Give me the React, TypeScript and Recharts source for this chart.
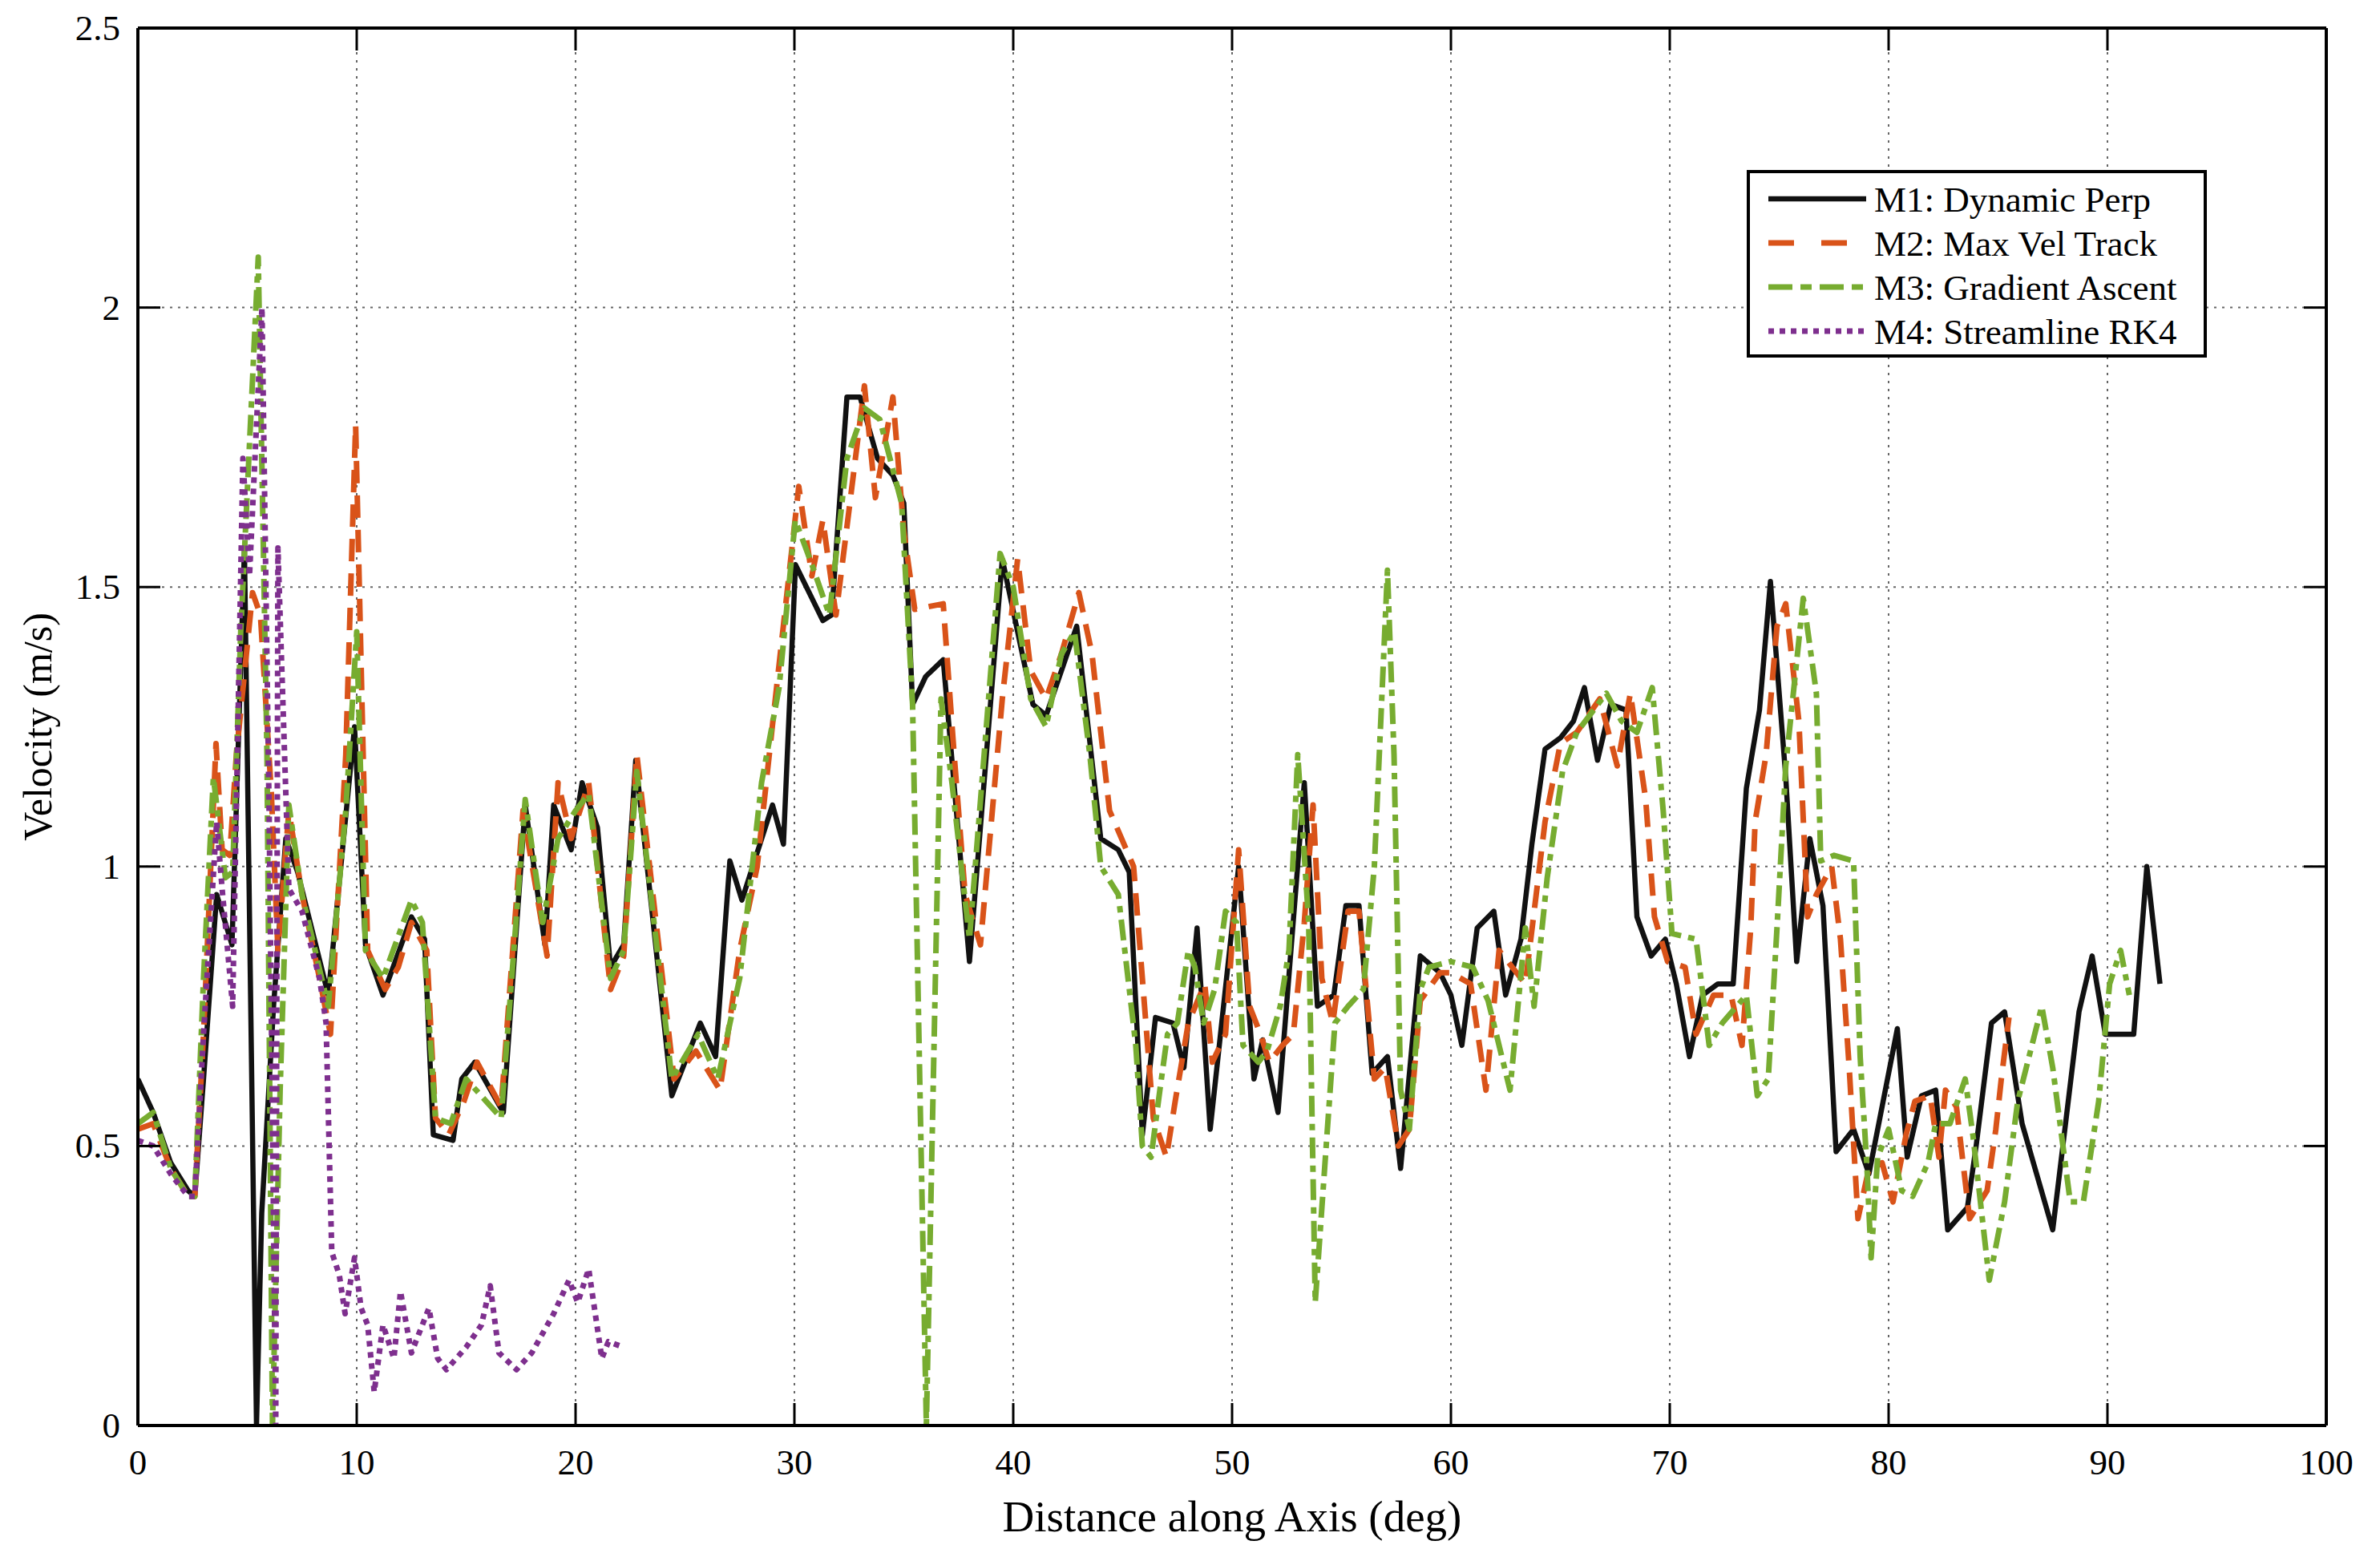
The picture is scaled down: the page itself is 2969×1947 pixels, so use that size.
import React from 'react';
import { LineChart, Line, XAxis, YAxis, CartesianGrid } from 'recharts';

// ---------- data ----------
const m1X = [0, 0.7, 1.5, 2.3, 2.6, 3.0, 3.6, 4.3, 4.87, 5.42, 5.66, 6.2, 6.76, 7.3, 8.7, 9.9, 10.4, 11.2, 12.5, 13.1, 13.5, 14.4, 14.8, 15.4, 16.7, 17.7, 18.6, 19.0, 19.8, 20.3, 21.0, 21.6, 22.2, 22.75, 24.4, 25.7, 26.4, 27.05, 27.6, 29.0, 29.5, 30.05, 31.3, 31.7, 32.4, 33.0, 33.8, 34.5, 35.0, 35.4, 36.0, 36.8, 38.0, 39.5, 40.9, 41.5, 42.9, 44.0, 44.8, 45.3, 45.9, 46.5, 47.3, 47.8, 48.4, 49.0, 50.3, 51.0, 51.4, 52.1, 53.3, 53.9, 54.65, 55.2, 55.8, 56.4, 57.1, 57.7, 58.6, 59.5, 60.0, 60.5, 61.2, 61.96, 62.5, 63.2, 63.7, 64.3, 65.0, 65.6, 66.1, 66.7, 67.3, 68.0, 68.5, 69.15, 69.8, 70.3, 70.9, 71.5, 72.2, 72.9, 73.5, 74.1, 74.6, 75.3, 75.8, 76.4, 77.0, 77.6, 78.4, 79.1, 80.4, 80.85, 81.5, 82.15, 82.7, 83.6, 84.0, 84.7, 85.3, 86.1, 87.5, 88.7, 89.3, 89.9, 91.2, 91.8, 92.4];
const m1Y = [0.62, 0.56, 0.47, 0.42, 0.41, 0.62, 0.95, 0.86, 1.57, 0.0, 0.38, 0.75, 1.05, 0.99, 0.77, 1.25, 0.86, 0.77, 0.91, 0.87, 0.52, 0.51, 0.62, 0.65, 0.56, 1.11, 0.86, 1.11, 1.03, 1.15, 1.07, 0.82, 0.86, 1.19, 0.59, 0.72, 0.66, 1.01, 0.94, 1.11, 1.04, 1.54, 1.44, 1.45, 1.84, 1.84, 1.73, 1.70, 1.65, 1.29, 1.34, 1.37, 0.83, 1.55, 1.29, 1.27, 1.43, 1.05, 1.03, 0.99, 0.52, 0.73, 0.72, 0.64, 0.89, 0.53, 1.0, 0.62, 0.69, 0.56, 1.15, 0.75, 0.77, 0.93, 0.93, 0.63, 0.66, 0.46, 0.84, 0.81, 0.77, 0.68, 0.89, 0.92, 0.77, 0.87, 1.04, 1.21, 1.23, 1.26, 1.32, 1.19, 1.29, 1.28, 0.91, 0.84, 0.87, 0.79, 0.66, 0.77, 0.79, 0.79, 1.14, 1.28, 1.51, 1.16, 0.83, 1.05, 0.93, 0.49, 0.53, 0.45, 0.71, 0.48, 0.59, 0.60, 0.35, 0.39, 0.50, 0.72, 0.74, 0.54, 0.35, 0.74, 0.84, 0.70, 0.70, 1.0, 0.79];

const m2X = [0, 0.7, 1.5, 2.3, 2.6, 3.0, 3.57, 3.85, 4.2, 4.5, 5.24, 5.6, 6.1, 6.4, 6.9, 7.5, 8.3, 8.8, 9.5, 9.95, 10.5, 11.3, 11.9, 12.5, 13.2, 13.6, 14.2, 14.9, 15.5, 16.6, 17.6, 18.7, 19.2, 19.8, 20.6, 21.6, 22.2, 22.8, 24.5, 25.5, 26.6, 27.5, 28.3, 29.1, 30.2, 30.8, 31.3, 31.9, 33.2, 33.7, 34.5, 35.0, 35.5, 36.8, 37.3, 37.8, 38.5, 39.5, 40.2, 40.8, 41.5, 42.2, 43.0, 43.6, 44.4, 45.5, 46.0, 46.4, 47.0, 47.4, 48.0, 48.75, 49.1, 49.7, 50.3, 50.8, 51.3, 51.7, 52.3, 52.8, 53.3, 53.7, 54.1, 54.6, 55.3, 55.8, 56.5, 57.0, 57.6, 58.1, 58.6, 59.5, 60.0, 60.9, 61.6, 62.2, 63.4, 64.3, 65.0, 65.75, 66.8, 67.6, 68.2, 68.9, 69.3, 69.9, 70.7, 71.2, 72.0, 72.8, 73.3, 73.7, 73.9, 74.4, 74.9, 75.3, 75.9, 76.3, 76.7, 77.4, 77.8, 78.2, 78.6, 79.1, 79.7, 80.2, 80.8, 81.2, 81.9, 82.3, 82.6, 83.1, 83.7, 84.5, 84.9, 85.15, 85.5];
const m2Y = [0.53, 0.54, 0.46, 0.41, 0.41, 0.70, 1.22, 1.03, 1.02, 1.20, 1.49, 1.45, 1.13, 0.85, 1.10, 0.95, 0.80, 0.70, 1.20, 1.79, 0.85, 0.78, 0.82, 0.90, 0.85, 0.55, 0.52, 0.58, 0.65, 0.57, 1.10, 0.84, 1.15, 1.05, 1.15, 0.78, 0.84, 1.20, 0.62, 0.67, 0.60, 0.85, 1.00, 1.29, 1.68, 1.52, 1.62, 1.45, 1.86, 1.66, 1.84, 1.60, 1.46, 1.47, 1.20, 0.95, 0.86, 1.30, 1.55, 1.35, 1.30, 1.38, 1.49, 1.38, 1.10, 1.00, 0.75, 0.55, 0.48, 0.58, 0.72, 0.79, 0.65, 0.70, 1.03, 0.75, 0.70, 0.65, 0.68, 0.70, 0.90, 1.11, 0.80, 0.72, 0.92, 0.92, 0.62, 0.64, 0.50, 0.53, 0.76, 0.81, 0.81, 0.79, 0.60, 0.85, 0.79, 1.08, 1.22, 1.24, 1.30, 1.18, 1.31, 1.12, 0.91, 0.83, 0.82, 0.70, 0.77, 0.77, 0.68, 0.89, 1.08, 1.20, 1.43, 1.47, 1.26, 0.91, 0.95, 1.00, 0.87, 0.64, 0.37, 0.46, 0.47, 0.40, 0.52, 0.58, 0.59, 0.48, 0.60, 0.57, 0.37, 0.42, 0.53, 0.62, 0.73];

const m3X = [0, 0.7, 1.5, 2.3, 2.6, 3.0, 3.45, 4.0, 4.33, 4.7, 5.5, 5.9, 6.15, 6.5, 6.9, 7.5, 8.7, 9.5, 10.0, 10.4, 11.2, 12.5, 13.0, 13.6, 14.3, 15.0, 16.6, 17.7, 18.5, 19.2, 20.0, 20.6, 21.6, 22.2, 22.8, 24.4, 25.6, 26.5, 27.5, 28.5, 29.3, 30.04, 30.8, 31.6, 32.4, 33.2, 33.9, 34.9, 35.4, 36.03, 36.7, 37.2, 38.0, 39.4, 40.0, 40.8, 41.5, 42.2, 42.8, 43.5, 44.0, 44.8, 45.6, 45.9, 46.3, 46.7, 47.05, 47.5, 48.0, 48.3, 48.7, 49.2, 49.7, 50.2, 50.5, 51.2, 51.6, 52.2, 52.6, 53.0, 53.5, 53.8, 54.3, 54.7, 55.3, 56.0, 56.5, 57.1, 57.4, 57.7, 58.1, 58.6, 59.0, 60.0, 61.0, 61.7, 62.7, 63.4, 63.8, 64.4, 65.1, 65.75, 67.1, 67.8, 68.5, 69.2, 69.7, 70.1, 71.2, 71.8, 72.4, 73.5, 74.0, 74.5, 74.9, 75.3, 76.1, 76.7, 76.9, 77.5, 78.4, 78.7, 79.0, 79.2, 79.5, 80.0, 80.6, 81.1, 81.8, 82.15, 82.8, 83.5, 83.85, 84.6, 85.3, 85.9, 87.0, 87.5, 88.3, 88.9, 89.6, 90.1, 90.6, 91.0];
const m3Y = [0.54, 0.56, 0.46, 0.41, 0.41, 0.80, 1.16, 0.98, 0.99, 1.42, 2.09, 1.20, 0.0, 0.60, 1.11, 0.95, 0.75, 1.10, 1.42, 0.85, 0.80, 0.94, 0.90, 0.55, 0.54, 0.62, 0.55, 1.12, 0.90, 1.05, 1.10, 1.13, 0.80, 0.85, 1.17, 0.62, 0.70, 0.62, 0.80, 1.15, 1.32, 1.62, 1.54, 1.45, 1.73, 1.82, 1.80, 1.65, 1.29, 0.0, 1.30, 1.15, 0.87, 1.56, 1.50, 1.30, 1.25, 1.38, 1.42, 1.20, 1.00, 0.95, 0.68, 0.50, 0.48, 0.60, 0.70, 0.72, 0.85, 0.82, 0.72, 0.78, 0.92, 0.90, 0.68, 0.65, 0.67, 0.75, 0.85, 1.20, 0.90, 0.22, 0.50, 0.72, 0.75, 0.78, 1.00, 1.53, 1.20, 0.60, 0.53, 0.78, 0.82, 0.83, 0.82, 0.76, 0.60, 0.89, 0.75, 0.98, 1.17, 1.24, 1.31, 1.26, 1.24, 1.32, 1.10, 0.88, 0.87, 0.68, 0.72, 0.77, 0.59, 0.62, 0.89, 1.18, 1.48, 1.31, 1.01, 1.02, 1.01, 0.66, 0.47, 0.30, 0.48, 0.53, 0.42, 0.41, 0.47, 0.54, 0.54, 0.62, 0.52, 0.26, 0.40, 0.58, 0.75, 0.64, 0.40, 0.40, 0.58, 0.79, 0.85, 0.77];

const m4X = [0, 0.7, 1.5, 2.3, 2.6, 3.0, 3.6, 3.85, 4.33, 4.8, 5.1, 5.67, 6.0, 6.3, 6.4, 6.9, 7.5, 8.3, 8.6, 8.86, 9.2, 9.47, 9.9, 10.2, 10.5, 10.8, 11.2, 11.7, 12.0, 12.5, 13.3, 13.7, 14.1, 15.0, 15.7, 16.1, 16.5, 17.3, 18.0, 19.0, 19.7, 20.1, 20.6, 21.2, 21.5, 22.2];
const m4Y = [0.51, 0.50, 0.45, 0.41, 0.41, 0.70, 1.08, 0.96, 0.75, 1.73, 1.52, 2.00, 1.09, 0.0, 1.57, 0.96, 0.92, 0.80, 0.72, 0.31, 0.27, 0.20, 0.30, 0.21, 0.18, 0.06, 0.18, 0.12, 0.24, 0.13, 0.21, 0.12, 0.10, 0.14, 0.18, 0.25, 0.13, 0.10, 0.13, 0.20, 0.26, 0.22, 0.28, 0.12, 0.15, 0.14];

const xTicks = [0, 10, 20, 30, 40, 50, 60, 70, 80, 90, 100];
const yTicks = [0, 0.5, 1, 1.5, 2, 2.5];
const seriesNames = ['M1: Dynamic Perp', 'M2: Max Vel Track', 'M3: Gradient Ascent', 'M4: Streamline RK4'];

// ---------- styling / layout ----------
const W = 2969;
const H = 1947;
const PL = 172, PR = 2902, PT = 35, PB = 1778;
const FONT = '"Liberation Serif", "Times New Roman", serif';
const TICK = 28;
const TICK_FS = 45;

const styles = [
  { color: '#111111', dash: undefined as string | undefined, width: 6.5 },
  { color: '#D95319', dash: '28 15', width: 7 },
  { color: '#77AC30', dash: '26 9 8 9', width: 7 },
  { color: '#7E2F8E', dash: '7 7', width: 7 },
];

const toPts = (xs: number[], ys: number[]) => xs.map((d, i) => ({ d, v: ys[i] }));
const series = [toPts(m1X, m1Y), toPts(m2X, m2Y), toPts(m3X, m3Y), toPts(m4X, m4Y)];

const BottomTick = (p: any) => (
  <g>
    <line x1={p.x} y1={p.y} x2={p.x} y2={p.y - TICK} stroke="#000" strokeWidth={3} />
    <text x={p.x} y={p.y + 61} textAnchor="middle" fontFamily={FONT} fontSize={TICK_FS} fill="#000">
      {String(p.payload.value)}
    </text>
  </g>
);
const TopTick = (p: any) => (
  <line x1={p.x} y1={p.y} x2={p.x} y2={p.y + TICK} stroke="#000" strokeWidth={3} />
);
const LeftTick = (p: any) => (
  <g>
    <line x1={p.x} y1={p.y} x2={p.x + TICK} y2={p.y} stroke="#000" strokeWidth={3} />
    <text x={p.x - 22} y={p.y + 15} textAnchor="end" fontFamily={FONT} fontSize={TICK_FS} fill="#000">
      {String(p.payload.value)}
    </text>
  </g>
);
const RightTick = (p: any) => (
  <line x1={p.x} y1={p.y} x2={p.x - TICK} y2={p.y} stroke="#000" strokeWidth={3} />
);

const LEG_X = 2179, LEG_Y = 212, LEG_W = 574, LEG_H = 234;
const legendDash = [undefined, '32 34', '30 10 14 10', '7 7'];
const LegendBox = () => (
  <g transform={`translate(${LEG_X} ${LEG_Y})`}>
    <rect x={2} y={2} width={LEG_W - 4} height={LEG_H - 4} fill="#fff" stroke="#000" strokeWidth={4} />
    {seriesNames.map((n, i) => {
      const cy = 36 + i * 55;
      return (
        <g key={n}>
          <line x1={27} x2={149} y1={cy} y2={cy} stroke={styles[i].color} strokeWidth={styles[i].width}
            strokeDasharray={legendDash[i]} />
          <text x={159} y={cy + 16} fontFamily={FONT} fontSize={45} fill="#000">{n}</text>
        </g>
      );
    })}
  </g>
);

export default function App() {
  return (
    <div style={{ position: 'absolute', left: 0, top: 0, width: W, height: H, background: '#fff' }}>
      <LineChart width={W} height={H} margin={{ top: PT - 1, right: W - PR - 1, bottom: H - PB - 1, left: PL - 1 }}>
        <CartesianGrid stroke="#666" strokeWidth={2} strokeDasharray="3 7" />
        <XAxis dataKey="d" type="number" domain={[0, 100]} ticks={xTicks} allowDataOverflow
          height={1} tickSize={0} tickMargin={0} tick={BottomTick} tickLine={false}
          axisLine={{ stroke: '#000', strokeWidth: 4 }} interval={0} />
        <XAxis xAxisId="top" orientation="top" dataKey="d" type="number" domain={[0, 100]} ticks={xTicks} allowDataOverflow
          height={1} tickSize={0} tickMargin={0} tick={TopTick} tickLine={false}
          axisLine={{ stroke: '#000', strokeWidth: 4 }} interval={0} />
        <YAxis type="number" domain={[0, 2.5]} ticks={yTicks} allowDataOverflow width={1}
          tickSize={0} tickMargin={0} tick={LeftTick} tickLine={false}
          axisLine={{ stroke: '#000', strokeWidth: 4 }} interval={0} />
        <YAxis yAxisId="right" orientation="right" type="number" domain={[0, 2.5]} ticks={yTicks} allowDataOverflow width={1}
          tickSize={0} tickMargin={0} tick={RightTick} tickLine={false}
          axisLine={{ stroke: '#000', strokeWidth: 4 }} interval={0} />
        {series.map((data, i) => (
          <Line key={seriesNames[i]} data={data} dataKey="v" name={seriesNames[i]} type="linear"
            stroke={styles[i].color} strokeWidth={styles[i].width} strokeDasharray={styles[i].dash}
            strokeLinejoin="round" dot={false} activeDot={false} isAnimationActive={false} />
        ))}
      </LineChart>
      <div style={{ position: 'absolute', left: 0, top: 0, pointerEvents: 'none' }}>
        <svg width={W} height={H}>
          <LegendBox />
          <text x={(PL + PR) / 2} y={1910} textAnchor="middle" fontFamily={FONT} fontSize={55} fill="#000">
            Distance along Axis (deg)
          </text>
          <text x={64} y={(PT + PB) / 2} textAnchor="middle" fontFamily={FONT} fontSize={50} fill="#000"
            transform={`rotate(-90 64 ${(PT + PB) / 2})`}>
            Velocity (m/s)
          </text>
        </svg>
      </div>
    </div>
  );
}
